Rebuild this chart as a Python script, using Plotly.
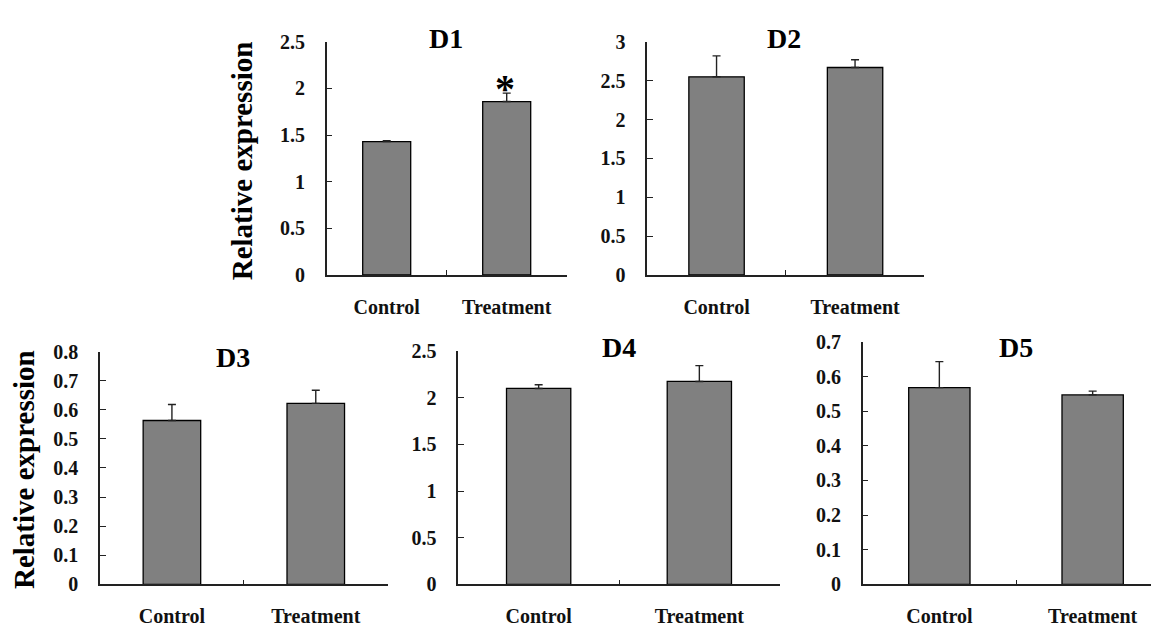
import plotly.graph_objects as go

# the page body has an 8px default margin; the figure fills the rest of the window
OFF = 8
W, H = 1159 - OFF, 632 - OFF

categories = ["Control", "Treatment"]

d1_values = [1.43, 1.86]
d1_errors = [0.01, 0.09]
d2_values = [2.55, 2.67]
d2_errors = [0.27, 0.10]
d3_values = [0.563, 0.622]
d3_errors = [0.055, 0.045]
d4_values = [2.10, 2.175]
d4_errors = [0.04, 0.17]
d5_values = [0.568, 0.547]
d5_errors = [0.075, 0.011]

panel_titles = ["D1", "D2", "D3", "D4", "D5"]
y_ranges = [(0, 2.5), (0, 3), (0, 0.8), (0, 2.5), (0, 0.7)]
y_dticks = [0.5, 0.5, 0.1, 0.5, 0.1]
y_label = "Relative expression"

# panel boxes in window pixels: x_left, x_right, y_top, y_bottom
boxes = [
    (326.7, 566.7, 31.7, 273.3),
    (647.3, 924.3, 31.7, 273.3),
    (100.0, 387.7, 352.7, 594.0),
    (458.3, 779.7, 352.3, 594.0),
    (862.7, 1169.3, 342.7, 594.0),
]
title_pos = [(446, 28), (784, 28), (233, 359), (619, 349), (1016, 349)]
ylabel_pos = [(241.5, 155), (24, 475.5)]
star_pos = (505, 72.5)

values = [d1_values, d2_values, d3_values, d4_values, d5_values]
errors = [d1_errors, d2_errors, d3_errors, d4_errors, d5_errors]

FONT = "Liberation Serif"


def px(x):
    return (x - OFF) / W


def py(y):
    return 1 - (y - OFF) / H


fig = go.Figure()
layout = dict(
    width=W, height=H,
    margin=dict(l=0, r=0, t=0, b=0),
    paper_bgcolor="white", plot_bgcolor="white",
    showlegend=False,
    font=dict(family=FONT, color="black"),
)
annotations = []

for i in range(5):
    xl, xr, yt, yb = boxes[i]
    cat_w = (xr - xl) / 2.0
    xr_clip = min(xr, W + OFF)
    x_end = -0.5 + (xr_clip - xl) / cat_w
    xa = "x" if i == 0 else f"x{i+1}"
    ya = "y" if i == 0 else f"y{i+1}"
    fig.add_trace(go.Bar(
        x=categories, y=values[i],
        xaxis=xa, yaxis=ya,
        width=0.4,
        marker=dict(color="#808080", line=dict(color="black", width=1.3)),
        error_y=dict(type="data", symmetric=False, array=errors[i],
                     arrayminus=[0, 0], color="#222222", thickness=1.4, width=4),
    ))
    xkey = "xaxis" if i == 0 else f"xaxis{i+1}"
    ykey = "yaxis" if i == 0 else f"yaxis{i+1}"
    layout[xkey] = dict(
        domain=[px(xl), min(px(xr_clip), 1.0)], anchor=ya,
        range=[-0.5, x_end], type="category",
        showline=True, linecolor="#222222", linewidth=1.5,
        ticks="inside", tickson="boundaries", ticklen=5, tickwidth=1.2, tickcolor="#222222",
        showgrid=False, zeroline=False,
        tickfont=dict(family=FONT, size=20, color="#111111", weight="bold"),
        ticklabelstandoff=13,
        fixedrange=True,
    )
    layout[ykey] = dict(
        domain=[py(yb), py(yt)], anchor=xa,
        range=list(y_ranges[i]), tick0=0, dtick=y_dticks[i],
        showline=True, linecolor="#222222", linewidth=1.5,
        ticks="inside", ticklen=6, tickwidth=1.2, tickcolor="#222222",
        showgrid=False, zeroline=False,
        tickfont=dict(family=FONT, size=20, color="#111111", weight="bold"),
        ticklabelstandoff=16,
        fixedrange=True,
    )
    tx, ty = title_pos[i]
    annotations.append(dict(
        text=panel_titles[i], x=px(tx), y=py(ty), xref="paper", yref="paper",
        xanchor="center", yanchor="middle", showarrow=False,
        font=dict(family=FONT, size=28, color="black", weight="bold"),
    ))

# significance star over the D1 treatment bar
annotations.append(dict(
    text="*", x=px(star_pos[0]), y=py(star_pos[1] + 8), xref="paper", yref="paper",
    xanchor="center", yanchor="middle", showarrow=False,
    font=dict(family=FONT, size=40, color="black", weight="bold"),
))

for (lx, ly) in ylabel_pos:
    annotations.append(dict(
        text=y_label, x=px(lx), y=py(ly), xref="paper", yref="paper",
        xanchor="center", yanchor="middle", showarrow=False, textangle=-90,
        font=dict(family=FONT, size=29, color="black", weight="bold"),
    ))

layout["annotations"] = annotations
fig.update_layout(**layout)
fig.write_html("out.html")
